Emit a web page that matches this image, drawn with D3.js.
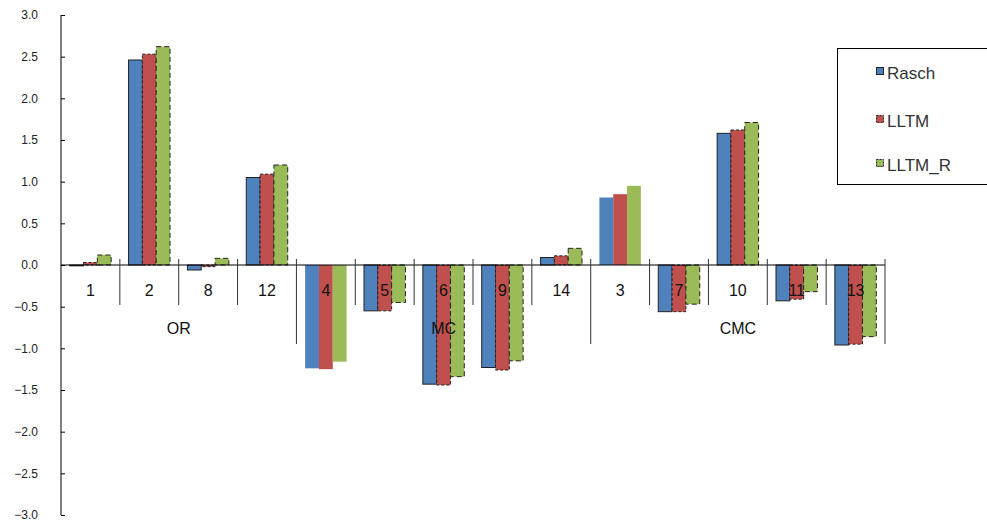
<!DOCTYPE html>
<html>
<head>
<meta charset="utf-8">
<script src="https://cdn.jsdelivr.net/npm/d3@7"></script>
<style>
  html, body { margin: 0; padding: 0; background: #fff; }
  svg { display: block; }
</style>
</head>
<body>
<svg id="chart" width="987" height="524"></svg>
<script>
// ---- data ----
const categories = ["1", "2", "8", "12", "4", "5", "6", "9", "14", "3", "7", "10", "11", "13"];
const groups = ["OR", "OR", "OR", "OR", "MC", "MC", "MC", "MC", "MC", "CMC", "CMC", "CMC", "CMC", "CMC"];
const seriesNames = ["Rasch", "LLTM", "LLTM_R"];
const rasch  = [-0.01, 2.46, -0.06, 1.05, -1.24, -0.55, -1.43, -1.23, 0.09, 0.81, -0.56, 1.58, -0.43, -0.96];
const lltm   = [ 0.03, 2.53, -0.02, 1.09, -1.25, -0.55, -1.44, -1.26, 0.11, 0.85, -0.56, 1.62, -0.41, -0.95];
const lltmR  = [ 0.12, 2.62,  0.08, 1.20, -1.16, -0.45, -1.34, -1.15, 0.20, 0.95, -0.47, 1.71, -0.32, -0.86];
const yTicks = [3.0, 2.5, 2.0, 1.5, 1.0, 0.5, 0.0, -0.5, -1.0, -1.5, -2.0, -2.5, -3.0];

const seriesValues = [rasch, lltm, lltmR];
const colors = ["#4F81BD", "#C0504D", "#9BBB59"];
const borderDash = [null, "3,2", "5,3"];
const unbordered = new Set(["4", "3"]);

const svg = d3.select("#chart");
const fontFamily = "'Liberation Sans', Arial, sans-serif";

const x0 = d3.scaleBand().domain(categories).range([61, 885]).paddingInner(0).paddingOuter(0);
const x1 = d3.scaleBand().domain(seriesNames).range([0, x0.bandwidth()]).paddingInner(0).paddingOuter(0.63);
const y = d3.scaleLinear().domain([-3, 3]).range([515, 15]);
const y0 = y(0);

// bars
seriesNames.forEach((s, si) => {
  const data = categories.map((c, i) => ({ c, v: seriesValues[si][i] }));
  svg.append("g").selectAll("rect").data(data).join("rect")
    .attr("x", d => x0(d.c) + x1(s))
    .attr("y", d => Math.min(y(d.v), y0))
    .attr("width", x1.bandwidth())
    .attr("height", d => Math.abs(y(d.v) - y0))
    .attr("fill", colors[si])
    .attr("stroke", d => unbordered.has(d.c) ? "none" : "#222")
    .attr("stroke-width", 1)
    .attr("stroke-dasharray", borderDash[si]);
});

// y axis
const yAxis = d3.axisLeft(y).tickValues(yTicks).tickSizeInner(-4).tickSizeOuter(0)
  .tickFormat(d3.format(".1f"));
const yg = svg.append("g").attr("transform", "translate(61,0)").call(yAxis);
yg.select(".domain").attr("stroke", "#000").attr("d", `M0,${y(3)}V${y(-3)}`);
yg.selectAll(".tick line").attr("stroke", "#000");
yg.selectAll(".tick text")
  .attr("x", -23)
  .attr("font-family", fontFamily)
  .attr("font-size", 12)
  .attr("fill", "#222")
  .text(d => d3.format(".1f")(d).replace("-", "\u2212"));

// x axis line
svg.append("line").attr("x1", 61).attr("x2", 885).attr("y1", y0).attr("y2", y0)
  .attr("stroke", "#000").attr("stroke-width", 1.2);

// category separators
const boundaries = categories.map((c, i) => ({ x: x0(c) + x0.bandwidth(), i }));
boundaries.forEach(b => {
  const isGroupEnd = b.i === categories.length - 1 || groups[b.i] !== groups[b.i + 1];
  svg.append("line")
    .attr("x1", b.x).attr("x2", b.x)
    .attr("y1", y0 - 6).attr("y2", y0 + (isGroupEnd ? 79 : 40))
    .attr("stroke", "#333").attr("stroke-width", 1);
});

// category labels
svg.append("g").selectAll("text").data(categories).join("text")
  .attr("x", d => x0(d) + x0.bandwidth() / 2)
  .attr("y", y0 + 31)
  .attr("text-anchor", "middle")
  .attr("font-family", fontFamily)
  .attr("font-size", 16)
  .attr("fill", "#111")
  .text(d => d);

// group labels
const groupNames = Array.from(new Set(groups));
groupNames.forEach(g => {
  const idx = groups.map((gg, i) => gg === g ? i : -1).filter(i => i >= 0);
  const left = x0(categories[idx[0]]);
  const right = x0(categories[idx[idx.length - 1]]) + x0.bandwidth();
  svg.append("text")
    .attr("x", (left + right) / 2)
    .attr("y", y0 + 69)
    .attr("text-anchor", "middle")
    .attr("font-family", fontFamily)
    .attr("font-size", 16)
    .attr("fill", "#111")
    .text(g);
});

// legend
const lg = svg.append("g");
lg.append("rect").attr("x", 837.5).attr("y", 48.5).attr("width", 200).attr("height", 136)
  .attr("fill", "#fff").attr("stroke", "#000").attr("stroke-width", 1);
const legendBaselines = [79, 127, 171];
seriesNames.forEach((s, si) => {
  lg.append("rect")
    .attr("x", 876.5).attr("y", legendBaselines[si] - 11.5)
    .attr("width", 7).attr("height", 7)
    .attr("fill", colors[si]).attr("stroke", "#222").attr("stroke-width", 1)
    .attr("stroke-dasharray", si === 0 ? null : "2,1");
  lg.append("text")
    .attr("x", 887).attr("y", legendBaselines[si])
    .attr("font-family", fontFamily)
    .attr("font-size", 17)
    .attr("fill", "#333")
    .text(s);
});
</script>
</body>
</html>
